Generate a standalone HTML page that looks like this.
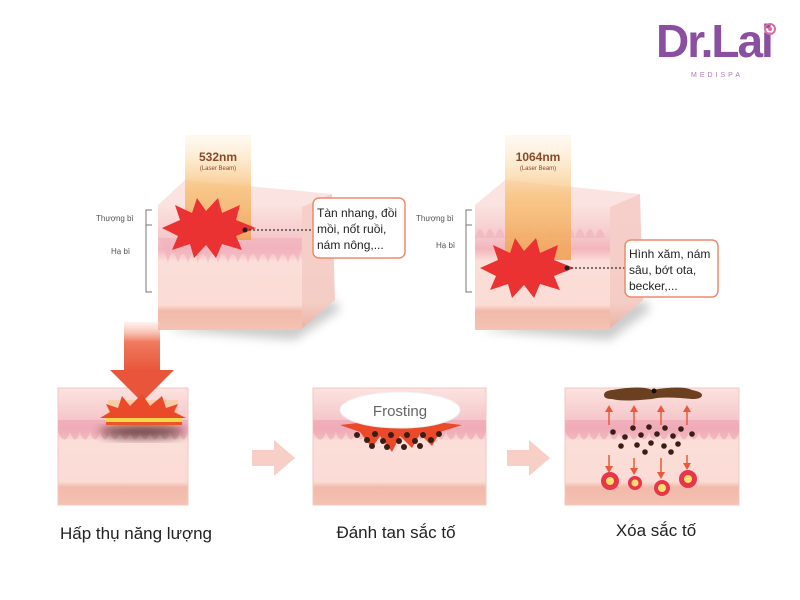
<!DOCTYPE html>
<html><head><meta charset="utf-8"><style>
html,body{margin:0;padding:0;background:#fff;width:800px;height:600px;overflow:hidden}
svg{display:block}
text{font-family:"Liberation Sans","DejaVu Sans",sans-serif}
</style></head><body>
<svg width="800" height="600" viewBox="0 0 800 600" xmlns="http://www.w3.org/2000/svg">
<defs>
<linearGradient id="beam" x1="0" y1="0" x2="0" y2="1">
<stop offset="0" stop-color="#fde9c8" stop-opacity="0.3"/><stop offset="0.5" stop-color="#f8c27a"/><stop offset="1" stop-color="#f0a050"/></linearGradient>
<linearGradient id="skin" x1="0" y1="0" x2="0" y2="1">
<stop offset="0" stop-color="#fbe3df"/><stop offset="0.25" stop-color="#f6c9cc"/><stop offset="0.35" stop-color="#f3b5bd"/><stop offset="0.45" stop-color="#fbded8"/><stop offset="0.8" stop-color="#fbdcd5"/><stop offset="0.85" stop-color="#f2b9a9"/><stop offset="1" stop-color="#f3c3b3"/></linearGradient>
<linearGradient id="side" x1="0" y1="0" x2="0" y2="1">
<stop offset="0" stop-color="#f6cfcc"/><stop offset="0.8" stop-color="#f4cdc5"/><stop offset="1" stop-color="#eab1a3"/></linearGradient>
<linearGradient id="arrow" x1="0" y1="0" x2="0" y2="1">
<stop offset="0" stop-color="#fbd0c4" stop-opacity="0.3"/><stop offset="0.4" stop-color="#f07a5e"/><stop offset="1" stop-color="#e8553a"/></linearGradient>
<filter id="sh" x="-20%" y="-20%" width="140%" height="160%"><feGaussianBlur stdDeviation="5"/></filter>
</defs>

<!-- Logo -->
<text x="656" y="57" font-size="46" fill="#8a4fa0" font-weight="bold" font-family="Liberation Serif" letter-spacing="-2">Dr.Lai</text>
<circle cx="770" cy="29" r="5" fill="none" stroke="#e06aa0" stroke-width="2"/><circle cx="770" cy="29" r="2" fill="#e06aa0"/>
<text x="717" y="77" font-size="7" fill="#b07ab8" text-anchor="middle" letter-spacing="3">MEDISPA</text>

<!-- Block 1 -->
<g>
<path d="M165 330 L295 340 L340 310 L335 300 Z" fill="#999" opacity="0.5" filter="url(#sh)"/>
<path d="M158 205 L185 180 L332 194 L302 207 Z" fill="#fae3e0"/>
<path d="M302 207 L332 194 L335 300 L300 330 Z" fill="url(#side)"/>
<rect x="158" y="205" width="144" height="125" fill="url(#skin)"/>
<path d="M158 238 q6 10 10 25 q4-20 10 0 q5 -18 10 0 q5-18 10 0 q5-18 10 0 q5-18 10 0 q5-18 10 0 q5-18 10 0 q5-18 10 0 q5-18 10 0 q5-18 10 0 q5-18 10 0 q5-18 10 0 q5-18 10 0 L302 238 Z" fill="#f0b0bc" opacity="0.6"/>
<rect x="185" y="135" width="66" height="105" fill="url(#beam)" opacity="0.85"/>
<text x="218" y="161" font-size="12" font-weight="bold" fill="#8a4a2a" text-anchor="middle">532nm</text>
<text x="218" y="170" font-size="6" fill="#8a4a2a" text-anchor="middle">(Laser Beam)</text>
<polygon points="162,228 180,220 175,205 192,213 197,198 206,211 218,198 222,213 240,205 236,220 256,228 236,236 242,250 222,244 216,258 206,245 194,258 190,244 172,250 178,236" fill="#ea3232"/>
<line x1="245" y1="230" x2="313" y2="230" stroke="#333" stroke-width="1.2" stroke-dasharray="2,2"/>
<circle cx="245" cy="230" r="2.5" fill="#222"/>
<rect x="313" y="198" width="92" height="60" rx="6" fill="#fff" stroke="#ef8a6e" stroke-width="1.5"/>
<text font-size="12" fill="#222"><tspan x="317" y="217">Tàn nhang, đồi</tspan><tspan x="317" y="233">mồi, nốt ruồi,</tspan><tspan x="317" y="249">nám nông,...</tspan></text>
<text x="96" y="221" font-size="8" fill="#555">Thượng bì</text>
<text x="111" y="254" font-size="8" fill="#555">Hạ bì</text>
<path d="M152 210 H146 V292 H152 M146 225 H152" fill="none" stroke="#777" stroke-width="1"/>
</g>

<!-- Block 2 -->
<g>
<path d="M480 330 L610 340 L650 310 L645 300 Z" fill="#999" opacity="0.5" filter="url(#sh)"/>
<path d="M475 205 L505 180 L640 194 L610 207 Z" fill="#fae3e0"/>
<path d="M610 207 L640 194 L643 300 L608 330 Z" fill="url(#side)"/>
<rect x="475" y="205" width="135" height="125" fill="url(#skin)"/>
<path d="M475 238 q5-18 10 0 q5-18 10 0 q5-18 10 0 q5-18 10 0 q5-18 10 0 q5-18 10 0 q5-18 10 0 q5-18 10 0 q5-18 10 0 q5-18 10 0 q5-18 10 0 q5-18 10 0 q5-18 10 0 L610 238 Z" fill="#f0b0bc" opacity="0.6"/>
<rect x="505" y="135" width="66" height="125" fill="url(#beam)" opacity="0.85"/>
<text x="538" y="161" font-size="12" font-weight="bold" fill="#8a4a2a" text-anchor="middle">1064nm</text>
<text x="538" y="170" font-size="6" fill="#8a4a2a" text-anchor="middle">(Laser Beam)</text>
<polygon points="480,268 498,260 493,245 510,253 515,238 524,251 536,238 540,253 558,245 554,260 574,268 554,276 560,290 540,284 534,298 524,285 512,298 508,284 490,290 496,276" fill="#ea3232"/>
<line x1="567" y1="268" x2="625" y2="268" stroke="#333" stroke-width="1.2" stroke-dasharray="2,2"/>
<circle cx="567" cy="268" r="2.5" fill="#222"/>
<rect x="625" y="240" width="93" height="57" rx="6" fill="#fff" stroke="#ef8a6e" stroke-width="1.5"/>
<text font-size="12" fill="#222"><tspan x="629" y="258">Hình xăm, nám</tspan><tspan x="629" y="274">sâu, bớt ota,</tspan><tspan x="629" y="290">becker,...</tspan></text>
<text x="416" y="221" font-size="8" fill="#555">Thượng bì</text>
<text x="436" y="248" font-size="8" fill="#555">Hạ bì</text>
<path d="M472 210 H466 V292 H472 M466 225 H472" fill="none" stroke="#777" stroke-width="1"/>
</g>

<!-- Bottom panels -->
<g id="p">
<rect x="58" y="388" width="130" height="117" fill="url(#skin)" stroke="#f3c7c3"/>
</g>
<rect x="313" y="388" width="173" height="117" fill="url(#skin)" stroke="#f3c7c3"/>
<rect x="565" y="388" width="174" height="117" fill="url(#skin)" stroke="#f3c7c3"/>
<g fill="#eda3b3" opacity="0.6">
<path d="M58 420 H188 V432 q-5 15 -8 0 q-5 15 -10 0 q-5 15 -10 0 q-5 15 -10 0 q-5 15 -10 0 q-5 15 -10 0 q-5 15 -10 0 q-5 15 -10 0 q-5 15 -10 0 q-5 15 -10 0 q-5 15 -10 0 q-5 15 -10 0 q-5 15 -12 0 Z"/>
<path d="M313 420 H486 V432 q-5 15 -10 0 q-5 15 -10 0 q-5 15 -10 0 q-5 15 -10 0 q-5 15 -10 0 q-5 15 -10 0 q-5 15 -10 0 q-5 15 -10 0 q-5 15 -10 0 q-5 15 -10 0 q-5 15 -10 0 q-5 15 -10 0 q-5 15 -10 0 q-5 15 -10 0 q-5 15 -10 0 q-5 15 -10 0 q-5 15 -13 0 Z"/>
<path d="M565 420 H739 V432 q-5 15 -10 0 q-5 15 -10 0 q-5 15 -10 0 q-5 15 -10 0 q-5 15 -10 0 q-5 15 -10 0 q-5 15 -10 0 q-5 15 -10 0 q-5 15 -10 0 q-5 15 -10 0 q-5 15 -10 0 q-5 15 -10 0 q-5 15 -10 0 q-5 15 -10 0 q-5 15 -10 0 q-5 15 -10 0 q-5 15 -14 0 Z"/>
</g>

<!-- Panel 1 content -->
<rect x="124" y="322" width="36" height="50" fill="url(#arrow)"/>
<polygon points="110,370 174,370 142,402" fill="#e8553a"/>
<rect x="108" y="400" width="70" height="28" fill="#f8c27a" opacity="0.5"/>
<ellipse cx="142" cy="432" rx="42" ry="6" fill="#2a1010" opacity="0.7" filter="url(#sh)"/>
<polygon points="100,418 110,412 106,404 118,408 122,396 130,406 142,394 150,406 162,396 166,408 178,404 174,412 186,418" fill="#ea4a2a"/>
<rect x="106" y="418" width="76" height="4" fill="#f5d84a"/>
<rect x="106" y="422" width="76" height="3" fill="#e8552f"/>

<!-- arrows between -->
<polygon points="252,450 274,450 274,440 295,458 274,476 274,466 252,466" fill="#f8cfc6"/>
<polygon points="507,450 529,450 529,440 550,458 529,476 529,466 507,466" fill="#f8cfc6"/>

<!-- Panel 2 -->
<polygon points="340,425 360,432 372,448 380,436 392,452 400,436 412,448 420,434 432,446 440,432 462,425 400,418" fill="#ea4a2a"/>
<ellipse cx="400" cy="410" rx="60" ry="18" fill="#fff" stroke="#eee"/>
<text x="400" y="416" font-size="15" fill="#666" text-anchor="middle">Frosting</text>
<g fill="#3a1d14">
<circle cx="357" cy="435" r="3"/><circle cx="367" cy="440" r="3"/><circle cx="375" cy="434" r="3"/><circle cx="383" cy="441" r="3"/><circle cx="391" cy="435" r="3"/><circle cx="399" cy="441" r="3"/><circle cx="407" cy="435" r="3"/><circle cx="415" cy="441" r="3"/><circle cx="423" cy="435" r="3"/><circle cx="431" cy="440" r="3"/><circle cx="439" cy="434" r="3"/><circle cx="372" cy="446" r="3"/><circle cx="387" cy="447" r="3"/><circle cx="404" cy="447" r="3"/><circle cx="420" cy="446" r="3"/>
</g>

<!-- Panel 3 -->
<path d="M612 390 q30 -5 40 0 q30 -5 40 0 q10 2 10 5 q0 4 -10 4 q-30 -3 -40 0 q-30 3 -40 0 q-8 0 -8 -4 q0 -4 8 -5 Z" fill="#6b4020"/>
<circle cx="654" cy="391" r="2.5" fill="#111"/>
<g stroke="#ea5a3a" stroke-width="1.5" fill="#ea5a3a">
<line x1="609" y1="425" x2="609" y2="410"/><line x1="634" y1="425" x2="634" y2="410"/><line x1="661" y1="425" x2="661" y2="410"/><line x1="687" y1="425" x2="687" y2="410"/>
<line x1="609" y1="455" x2="609" y2="468"/><line x1="634" y1="458" x2="634" y2="470"/><line x1="661" y1="458" x2="661" y2="474"/><line x1="687" y1="455" x2="687" y2="465"/>
</g>
<g fill="#ea5a3a">
<polygon points="605,412 613,412 609,405"/><polygon points="630,412 638,412 634,405"/><polygon points="657,412 665,412 661,405"/><polygon points="683,412 691,412 687,405"/>
<polygon points="605,466 613,466 609,473"/><polygon points="630,468 638,468 634,475"/><polygon points="657,472 665,472 661,479"/><polygon points="683,463 691,463 687,470"/>
</g>
<g fill="#3a1d14">
<circle cx="613" cy="432" r="2.8"/><circle cx="625" cy="437" r="2.8"/><circle cx="633" cy="428" r="2.8"/><circle cx="641" cy="435" r="2.8"/><circle cx="649" cy="427" r="2.8"/><circle cx="657" cy="434" r="2.8"/><circle cx="665" cy="428" r="2.8"/><circle cx="673" cy="436" r="2.8"/><circle cx="681" cy="429" r="2.8"/><circle cx="692" cy="434" r="2.8"/><circle cx="621" cy="446" r="2.8"/><circle cx="637" cy="445" r="2.8"/><circle cx="651" cy="443" r="2.8"/><circle cx="664" cy="446" r="2.8"/><circle cx="678" cy="444" r="2.8"/><circle cx="645" cy="452" r="2.8"/><circle cx="671" cy="452" r="2.8"/>
</g>
<g>
<circle cx="610" cy="481" r="9" fill="#e8354a"/><circle cx="610" cy="481" r="4" fill="#f8e070"/>
<circle cx="635" cy="483" r="7" fill="#e8354a"/><circle cx="635" cy="483" r="3.5" fill="#f8e070"/>
<circle cx="662" cy="488" r="8" fill="#e8354a"/><circle cx="662" cy="488" r="4" fill="#f8e070"/>
<circle cx="688" cy="479" r="9" fill="#e8354a"/><circle cx="688" cy="479" r="4" fill="#f8e070"/>
</g>

<text x="136" y="539" font-size="17" fill="#222" text-anchor="middle">Hấp thụ năng lượng</text>
<text x="396" y="538" font-size="17" fill="#222" text-anchor="middle">Đánh tan sắc tố</text>
<text x="656" y="536" font-size="17" fill="#222" text-anchor="middle">Xóa sắc tố</text>
</svg>
</body></html>
